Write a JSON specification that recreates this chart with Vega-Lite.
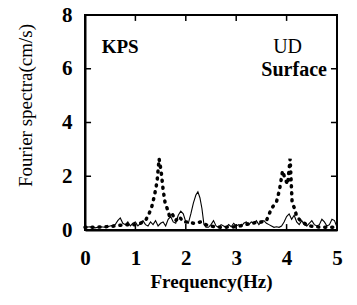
{
  "$schema": "https://vega.github.io/schema/vega-lite/v6.json",
  "width": 252,
  "height": 215,
  "autosize": "none",
  "padding": {"left": 85, "top": 15, "right": 20, "bottom": 75},
  "background": "white",
  "config": {
    "view": {"stroke": "black", "strokeWidth": 2},
    "font": "Liberation Serif"
  },
  "datasets": {
    "solid": [
      {"f":0.0,"v":0.1},{"f":0.1,"v":0.12},{"f":0.2,"v":0.08},{"f":0.3,"v":0.12},{"f":0.4,"v":0.1},{"f":0.5,"v":0.15},{"f":0.6,"v":0.2},{"f":0.65,"v":0.35},{"f":0.7,"v":0.45},{"f":0.75,"v":0.25},{"f":0.8,"v":0.2},{"f":0.85,"v":0.3},{"f":0.9,"v":0.15},{"f":0.95,"v":0.25},{"f":1.0,"v":0.3},{"f":1.05,"v":0.15},{"f":1.1,"v":0.25},{"f":1.15,"v":0.35},{"f":1.2,"v":0.2},{"f":1.25,"v":0.15},{"f":1.3,"v":0.3},{"f":1.35,"v":0.2},{"f":1.4,"v":0.35},{"f":1.45,"v":0.15},{"f":1.5,"v":0.25},{"f":1.55,"v":0.3},{"f":1.6,"v":0.15},{"f":1.65,"v":0.4},{"f":1.7,"v":0.5},{"f":1.75,"v":0.3},{"f":1.8,"v":0.25},{"f":1.85,"v":0.55},{"f":1.9,"v":0.7},{"f":1.95,"v":0.6},{"f":2.0,"v":0.3},{"f":2.05,"v":0.25},{"f":2.1,"v":0.6},{"f":2.15,"v":1.0},{"f":2.2,"v":1.3},{"f":2.24,"v":1.42},{"f":2.28,"v":1.2},{"f":2.32,"v":0.8},{"f":2.36,"v":0.2},{"f":2.4,"v":0.1},{"f":2.45,"v":0.1},{"f":2.5,"v":0.2},{"f":2.55,"v":0.35},{"f":2.6,"v":0.15},{"f":2.65,"v":0.1},{"f":2.7,"v":0.2},{"f":2.75,"v":0.15},{"f":2.8,"v":0.1},{"f":2.85,"v":0.2},{"f":2.9,"v":0.12},{"f":2.95,"v":0.25},{"f":3.0,"v":0.15},{"f":3.05,"v":0.2},{"f":3.1,"v":0.12},{"f":3.15,"v":0.25},{"f":3.2,"v":0.3},{"f":3.25,"v":0.2},{"f":3.3,"v":0.3},{"f":3.35,"v":0.25},{"f":3.4,"v":0.35},{"f":3.45,"v":0.2},{"f":3.5,"v":0.3},{"f":3.55,"v":0.35},{"f":3.6,"v":0.25},{"f":3.65,"v":0.2},{"f":3.7,"v":0.15},{"f":3.75,"v":0.1},{"f":3.8,"v":0.12},{"f":3.85,"v":0.1},{"f":3.9,"v":0.15},{"f":3.95,"v":0.3},{"f":4.0,"v":0.5},{"f":4.05,"v":0.6},{"f":4.1,"v":0.4},{"f":4.15,"v":0.55},{"f":4.2,"v":0.3},{"f":4.25,"v":0.2},{"f":4.3,"v":0.35},{"f":4.35,"v":0.2},{"f":4.4,"v":0.15},{"f":4.45,"v":0.25},{"f":4.5,"v":0.35},{"f":4.55,"v":0.2},{"f":4.6,"v":0.15},{"f":4.65,"v":0.2},{"f":4.7,"v":0.4},{"f":4.75,"v":0.3},{"f":4.8,"v":0.15},{"f":4.85,"v":0.2},{"f":4.9,"v":0.4},{"f":4.95,"v":0.35},{"f":5.0,"v":0.1}
    ],
    "dotted": [
      {"f":0.0,"v":0.1},{"f":0.2,"v":0.1},{"f":0.4,"v":0.12},{"f":0.6,"v":0.15},{"f":0.8,"v":0.2},{"f":1.0,"v":0.2},{"f":1.1,"v":0.25},{"f":1.2,"v":0.35},{"f":1.27,"v":0.6},{"f":1.33,"v":0.9},{"f":1.38,"v":1.3},{"f":1.43,"v":1.8},{"f":1.47,"v":2.65},{"f":1.51,"v":2.2},{"f":1.55,"v":1.5},{"f":1.59,"v":1.0},{"f":1.63,"v":0.8},{"f":1.68,"v":0.5},{"f":1.73,"v":0.6},{"f":1.8,"v":0.35},{"f":1.87,"v":0.5},{"f":1.95,"v":0.3},{"f":2.05,"v":0.3},{"f":2.15,"v":0.25},{"f":2.3,"v":0.3},{"f":2.45,"v":0.15},{"f":2.7,"v":0.1},{"f":3.0,"v":0.12},{"f":3.3,"v":0.25},{"f":3.5,"v":0.3},{"f":3.6,"v":0.35},{"f":3.7,"v":0.8},{"f":3.8,"v":1.05},{"f":3.86,"v":1.5},{"f":3.92,"v":2.2},{"f":3.97,"v":1.9},{"f":4.02,"v":1.7},{"f":4.07,"v":2.65},{"f":4.11,"v":1.0},{"f":4.16,"v":0.8},{"f":4.2,"v":0.5},{"f":4.3,"v":0.3},{"f":4.45,"v":0.15},{"f":4.7,"v":0.1},{"f":5.0,"v":0.1}
    ],
    "xticks": [{"t": 1}, {"t": 2}, {"t": 3}, {"t": 4}],
    "yticks": [{"t": 2}, {"t": 4}, {"t": 6}]
  },
  "layer": [
    {"data": {"name": "solid"}, "mark": {"type": "line", "color": "black", "strokeWidth": 1.1},
      "encoding": {
        "x": {"field": "f", "type": "quantitative", "scale": {"domain": [0, 5], "nice": false},
          "axis": {"values": [0,1,2,3,4,5], "grid": false, "domainColor": "black", "domainWidth": 2, "ticks": false, "labelPadding": 17, "labelFont": "Liberation Serif", "labelColor": "black", "labelFontSize": 21, "labelFontWeight": "bold", "title": "Frequency(Hz)", "titleFont": "Liberation Serif", "titleColor": "black", "titleFontSize": 19, "titleFontWeight": "bold", "titlePadding": 4, "labelFlush": false}},
        "y": {"field": "v", "type": "quantitative", "scale": {"domain": [0, 8], "nice": false},
          "axis": {"values": [0,2,4,6,8], "grid": false, "domainColor": "black", "domainWidth": 2, "ticks": false, "labelPadding": 13, "labelFont": "Liberation Serif", "labelColor": "black", "labelFontSize": 21, "labelFontWeight": "bold", "title": "Fourier  spectra(cm/s)", "titleFont": "Liberation Serif", "titleColor": "black", "titleFontSize": 19, "titleFontWeight": "normal", "titlePadding": 26, "titleY": 90, "labelFlush": false}}
      }},
    {"data": {"name": "dotted"}, "mark": {"type": "line", "color": "black", "strokeWidth": 3.5, "strokeDash": [1, 6], "strokeCap": "round"},
      "encoding": {
        "x": {"field": "f", "type": "quantitative", "axis": null},
        "y": {"field": "v", "type": "quantitative", "axis": null}
      }},
    {"data": {"values": [{"f": 0.33, "v": 6.8, "t": "KPS"}]}, "mark": {"type": "text", "fontSize": 19, "fontWeight": "bold", "align": "left", "color": "black", "font": "Liberation Serif"},
      "encoding": {"x": {"field": "f", "type": "quantitative", "axis": null}, "y": {"field": "v", "type": "quantitative", "axis": null}, "text": {"field": "t"}}},
    {"data": {"values": [{"f": 4.02, "v": 6.8, "t": "UD"}]}, "mark": {"type": "text", "fontSize": 20, "fontWeight": "normal", "align": "center", "color": "black", "font": "Liberation Serif"},
      "encoding": {"x": {"field": "f", "type": "quantitative", "axis": null}, "y": {"field": "v", "type": "quantitative", "axis": null}, "text": {"field": "t"}}},
    {"data": {"values": [{"f": 4.8, "v": 5.95, "t": "Surface"}]}, "mark": {"type": "text", "fontSize": 20, "fontWeight": "bold", "align": "right", "color": "black", "font": "Liberation Serif"},
      "encoding": {"x": {"field": "f", "type": "quantitative", "axis": null}, "y": {"field": "v", "type": "quantitative", "axis": null}, "text": {"field": "t"}}},
    {"data": {"name": "xticks"}, "mark": {"type": "rule", "color": "black", "strokeWidth": 1.5},
      "encoding": {"x": {"field": "t", "type": "quantitative", "axis": null}, "y": {"datum": 0, "type": "quantitative", "axis": null}, "y2": {"datum": 0.22}}},
    {"data": {"name": "xticks"}, "mark": {"type": "rule", "color": "black", "strokeWidth": 1.5},
      "encoding": {"x": {"field": "t", "type": "quantitative", "axis": null}, "y": {"datum": 8, "type": "quantitative", "axis": null}, "y2": {"datum": 7.78}}},
    {"data": {"name": "yticks"}, "mark": {"type": "rule", "color": "black", "strokeWidth": 1.5},
      "encoding": {"y": {"field": "t", "type": "quantitative", "axis": null}, "x": {"datum": 0, "type": "quantitative", "axis": null}, "x2": {"datum": 0.12}}},
    {"data": {"name": "yticks"}, "mark": {"type": "rule", "color": "black", "strokeWidth": 1.5},
      "encoding": {"y": {"field": "t", "type": "quantitative", "axis": null}, "x": {"datum": 5, "type": "quantitative", "axis": null}, "x2": {"datum": 4.88}}}
  ],
  "resolve": {"axis": {"x": "independent", "y": "independent"}}
}
